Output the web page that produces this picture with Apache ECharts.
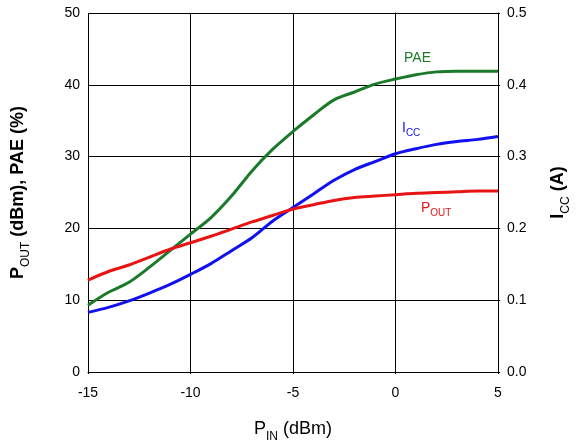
<!DOCTYPE html>
<html><head><meta charset="utf-8">
<script src="https://cdn.jsdelivr.net/npm/echarts@6/dist/echarts.min.js"></script>
<style>html,body{margin:0;padding:0;background:#fff}#c{width:582px;height:448px}</style>
</head><body><div id="c"></div>
<script>
var pin = [-15,-14,-13,-12,-11,-10,-9,-8,-7,-6,-5,-4,-3,-2,-1,0,1,2,3,4,5];
var pae = [9.3,11.1,12.5,14.6,16.9,19.2,21.5,24.5,28.0,31.0,33.5,35.8,37.9,39.0,40.1,40.8,41.4,41.8,41.9,41.9,41.9];
var pout = [12.8,14.0,14.9,16.0,17.1,18.0,18.9,19.9,20.9,21.8,22.7,23.3,23.9,24.3,24.5,24.7,24.9,25.0,25.1,25.2,25.2];
var icc = [0.083,0.090,0.099,0.110,0.122,0.136,0.151,0.169,0.187,0.210,0.229,0.248,0.267,0.282,0.293,0.304,0.311,0.317,0.321,0.324,0.328];
var leftTicks = [0,10,20,30,40,50];
var rightTicks = ['0.0','0.1','0.2','0.3','0.4','0.5'];

function pairs(xs, ys){ return xs.map(function(x,i){return [x, ys[i]];}); }
var F = 'Liberation Sans, Arial, sans-serif';
var chart = echarts.init(document.getElementById('c'));
var axisLine = {show:true, lineStyle:{color:'#000', width:1}};
chart.setOption({
  animation:false,
  grid:{left:88, right:84, top:13, height:360},
  xAxis:{type:'value', min:-15, max:5, interval:5,
    axisLine:axisLine, axisTick:{show:true, length:2, inside:false, lineStyle:{color:'#000'}},
    axisLabel:{color:'#000', fontSize:14, fontFamily:F, margin:14},
    splitLine:{show:true, lineStyle:{color:'#000', width:1}},
    name:'{a|P}{s|IN}{a| (dBm)}', nameLocation:'middle', nameGap:43,
    nameTextStyle:{rich:{a:{fontSize:18, fontFamily:F, color:'#000'}, s:{fontSize:12, fontFamily:F, color:'#000', padding:[16,0,0,0]}}}
  },
  yAxis:[
    {type:'value', min:0, max:50, interval:10, position:'left',
     axisLine:axisLine, axisTick:{show:true, length:2, lineStyle:{color:'#000'}},
     axisLabel:{color:'#000', fontSize:14, fontFamily:F, margin:8,
       formatter:function(v){ return String(leftTicks[Math.round(v/10)]); }},
     splitLine:{show:true, lineStyle:{color:'#000', width:1}},
     name:'{a|P}{s|OUT}{a| (dBm), PAE (%)}', nameLocation:'middle', nameGap:56, nameRotate:90,
     nameTextStyle:{rich:{a:{fontSize:18, fontWeight:'bold', fontFamily:F, color:'#000'}, s:{fontSize:12, fontFamily:F, color:'#000', padding:[16,0,0,0]}}}
    },
    {type:'value', min:0, max:0.5, interval:0.1, position:'right',
     axisLine:axisLine, axisTick:{show:true, length:2, lineStyle:{color:'#000'}},
     axisLabel:{color:'#000', fontSize:14, fontFamily:F, margin:9,
       formatter:function(v){ return rightTicks[Math.round(v*10)]; }},
     splitLine:{show:false},
     name:'{a|I}{s|CC}{a| (A)}', nameLocation:'middle', nameGap:46, nameRotate:90,
     nameTextStyle:{rich:{a:{fontSize:18, fontWeight:'bold', fontFamily:F, color:'#000'}, s:{fontSize:12, fontFamily:F, color:'#000', padding:[16,0,0,0]}}}
    }
  ],
  series:[
    {type:'line', name:'PAE', data:pairs(pin,pae), smooth:0.3, showSymbol:false, yAxisIndex:0, lineStyle:{color:'#1a7a2a', width:3}},
    {type:'line', name:'ICC', data:pairs(pin,icc), smooth:0.3, showSymbol:false, yAxisIndex:1, lineStyle:{color:'#1010f0', width:3}},
    {type:'line', name:'POUT', data:pairs(pin,pout), smooth:0.3, showSymbol:false, yAxisIndex:0, lineStyle:{color:'#e81414', width:3}}
  ],
  graphic:[
    {type:'text', left:404, top:51, style:{text:'PAE', fill:'#1a7a2a', font:'14px '+F}},
    {type:'text', left:402, top:121, style:{text:'{a|I}{s|CC}', rich:{a:{fontSize:14, fontFamily:F, fill:'#1010f0'}, s:{fontSize:10, fontFamily:F, fill:'#1010f0', padding:[11,0,0,0]}}}},
    {type:'text', left:421, top:201, style:{text:'{a|P}{s|OUT}', rich:{a:{fontSize:14, fontFamily:F, fill:'#e81414'}, s:{fontSize:10, fontFamily:F, fill:'#e81414', padding:[11,0,0,0]}}}}
  ]
});
</script></body></html>
